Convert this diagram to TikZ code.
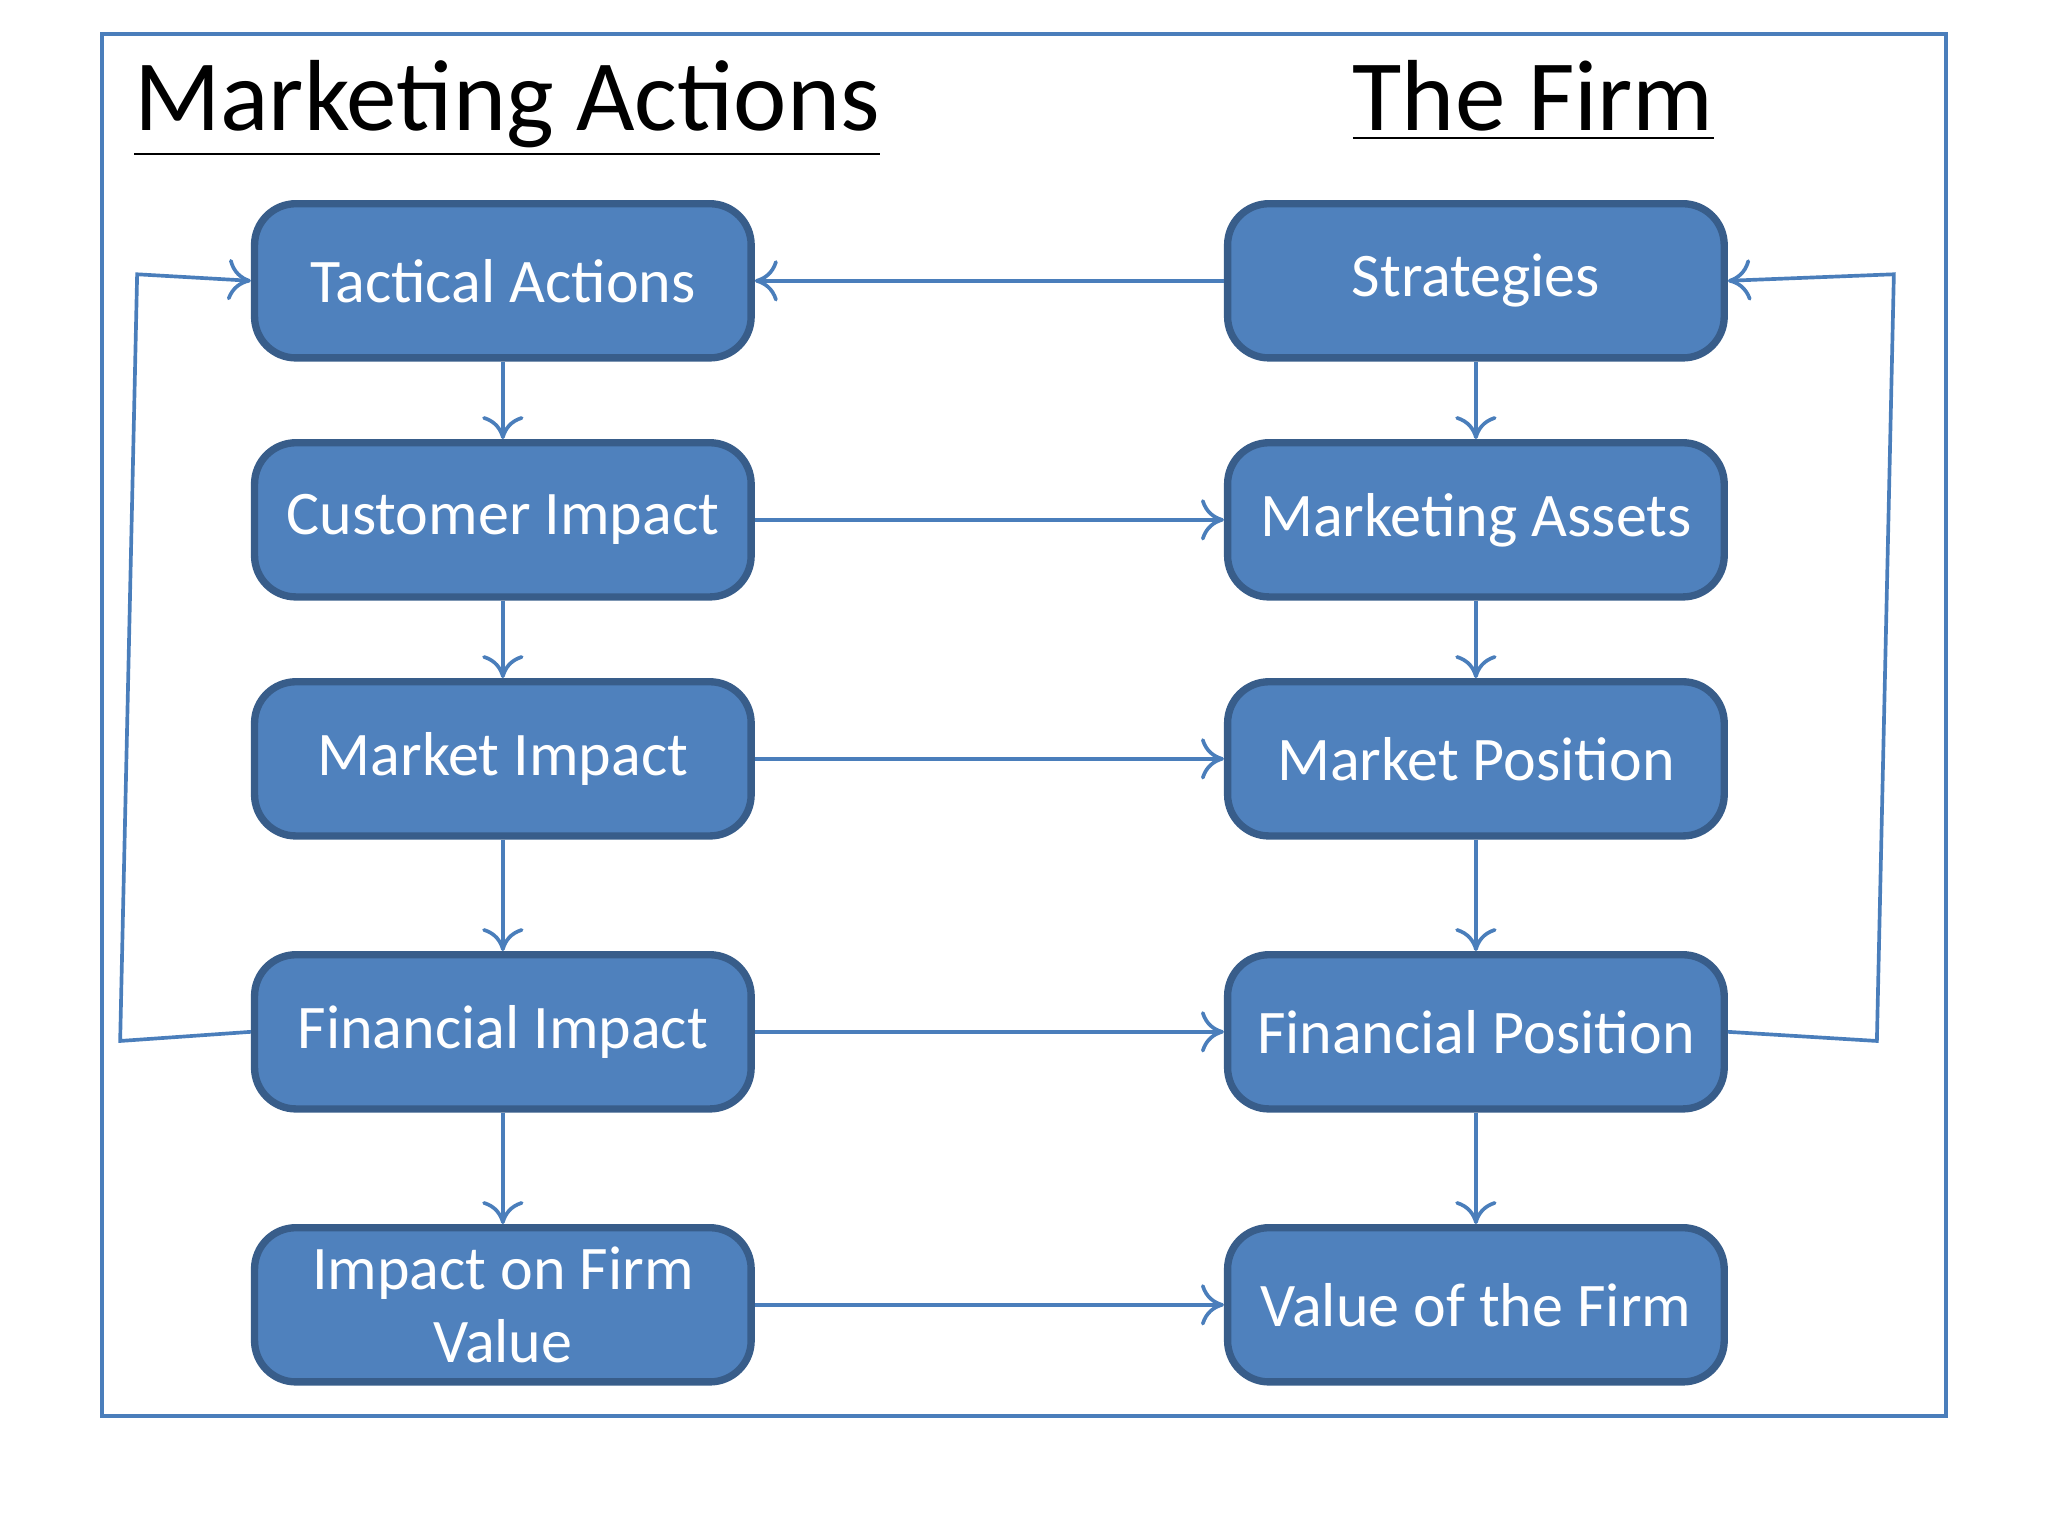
\documentclass[tikz,border=0pt]{standalone}
\usepackage{fontspec}
\setmainfont{Carlito}
\usetikzlibrary{arrows.meta}
\definecolor{boxfill}{HTML}{4F81BD}
\definecolor{boxline}{HTML}{385D8A}
\definecolor{arr}{HTML}{4A7EBB}
\tikzset{
 bx/.style={draw=boxline,line width=1.6pt,fill=boxfill,rounded corners=9pt,minimum width=3.8cm,minimum height=1.18cm,text=white,font=\fontsize{13.5}{16}\selectfont,align=center,inner sep=2pt},
 ar/.style={draw=arr,line width=0.8pt,-{To[length=5pt,width=9pt]}},
 ttl/.style={font=\fontsize{22}{26}\selectfont,anchor=base west,inner sep=0pt}
}
\begin{document}
\begin{tikzpicture}[x=0.01cm,y=-0.01cm]
\useasboundingbox (0,0) rectangle (1568,1176);
\draw[draw=arr,line width=0.8pt] (78,26) rectangle (1490,1084);
\node[ttl] (t1) at (102,100) {\underline{Marketing Actions}};
\node[ttl] (t2) at (1035,100) {\underline{The Firm}};
\node[bx] (a1) at (385,215) {Tactical Actions};
\node[bx] (a2) at (385,398) {Customer Impact};
\node[bx] (a3) at (385,581) {Market Impact};
\node[bx] (a4) at (385,790) {Financial Impact};
\node[bx] (a5) at (385,999) {Impact on Firm\\Value};
\node[bx] (b1) at (1130,215) {Strategies};
\node[bx] (b2) at (1130,398) {Marketing Assets};
\node[bx] (b3) at (1130,581) {Market Position};
\node[bx] (b4) at (1130,790) {Financial Position};
\node[bx] (b5) at (1130,999) {Value of the Firm};
\foreach \u/\v in {a1/a2,a2/a3,a3/a4,a4/a5,b1/b2,b2/b3,b3/b4,b4/b5}{\draw[ar] (\u) -- (\v);}
\foreach \u/\v in {a2/b2,a3/b3,a4/b4,a5/b5}{\draw[ar] (\u) -- (\v);}
\draw[ar] (b1) -- (a1);
\coordinate (l1) at (92,797); \coordinate (l2) at (105,210);
\coordinate (r1) at (1437,797); \coordinate (r2) at (1450,210);
\draw[ar] (a4.west) -- (l1) -- (l2) -- (a1.west);
\draw[ar] (b4.east) -- (r1) -- (r2) -- (b1.east);
\end{tikzpicture}
\end{document}
